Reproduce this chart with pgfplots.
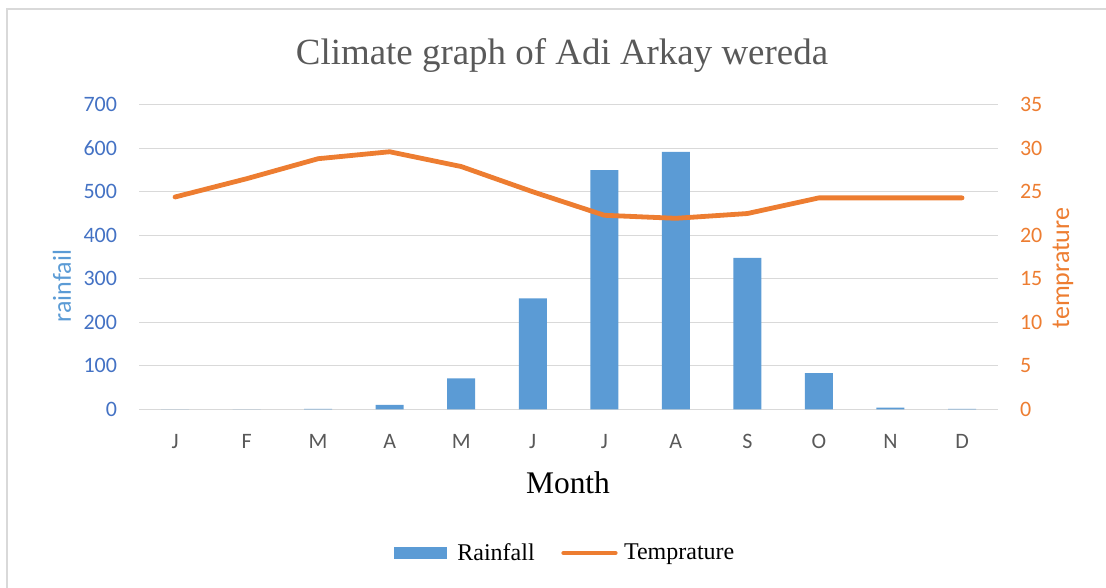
\documentclass[border=0pt]{standalone}
\usepackage{fontspec}
\usepackage{pgfplots}
\pgfplotsset{compat=1.18}
\setmainfont{Liberation Serif}
\newfontfamily\calibri{Carlito}

\definecolor{barblue}{HTML}{5B9BD5}
\definecolor{tickblue}{HTML}{4472C4}
\definecolor{lineorange}{HTML}{ED7D31}
\definecolor{gridgray}{HTML}{D9D9D9}
\definecolor{textgray}{HTML}{595959}

\begin{document}
\begin{tikzpicture}
\useasboundingbox (0,0) rectangle (829.5pt,440.25pt);
% chart frame (left and top edges only visible)
\draw[gridgray, line width=1.5pt] (5.25pt,-5pt) -- (5.25pt,433.5pt) -- (835pt,433.5pt);

% rainfall (left axis)
\begin{axis}[
  scale only axis,
  width=643.9pt, height=228.4pt,
  at={(104.44pt,133.28pt)}, anchor=south west,
  xmin=-0.5, xmax=11.5,
  ymin=0, ymax=700,
  ytick={0,100,...,700},
  xtick={0,...,11},
  xticklabels={J,F,M,A,M,J,J,A,S,O,N,D},
  axis line style={draw=none},
  major tick length=0pt,
  ymajorgrids,
  grid style={draw=gridgray, line width=1pt},
  /pgf/number format/assume math mode=true,
  /pgf/number format/1000 sep={},
  yticklabel style={font=\calibri\fontsize{16.5}{18}\selectfont, text=tickblue,
    anchor=east, inner sep=0pt, xshift=-16.5pt},
  xticklabel style={font=\calibri\fontsize{16.5}{18}\selectfont, text=textgray,
    anchor=center, inner sep=0pt, text height=10.6pt, text depth=0pt, yshift=-24.3pt},
]
\addplot[ybar, bar width=21pt, fill=barblue, draw=none] coordinates {
  (0,0) (1,0) (2,1) (3,10) (4,71) (5,255)
  (6,550) (7,592) (8,348) (9,83) (10,4) (11,1)
};
\end{axis}

% temperature (right axis)
\begin{axis}[
  scale only axis,
  width=643.9pt, height=228.4pt,
  at={(104.44pt,133.28pt)}, anchor=south west,
  xmin=-0.5, xmax=11.5,
  ymin=0, ymax=35,
  ytick={0,5,...,35},
  axis y line*=right,
  hide x axis,
  axis line style={draw=none},
  major tick length=0pt,
  /pgf/number format/assume math mode=true,
  yticklabel style={font=\calibri\fontsize{16.5}{18}\selectfont, text=lineorange,
    anchor=west, inner sep=0pt, xshift=16.5pt},
  legend columns=2,
  legend style={
    at={(0.4948,-0.472)}, anchor=center, draw=none, fill=none,
    font=\fontsize{18}{20}\selectfont,
    nodes={inner sep=0pt},
    /tikz/column 1/.style={column sep=8.25pt},
    /tikz/column 2/.style={column sep=20pt},
    /tikz/column 3/.style={column sep=4.8pt},
  },
]
\addlegendimage{legend image code/.code={
  \fill[barblue] (0pt,-4.1pt) rectangle (39pt,4.1pt);}}
\addlegendentry{Rainfall}
\addplot[lineorange, line width=3.6pt, line join=round, line cap=round,
  legend image code/.code={
    \draw[lineorange, line width=3.6pt, line cap=round] (2.4pt,0pt) -- (41pt,0pt);}]
  coordinates {
  (0,24.4) (1,26.5) (2,28.8) (3,29.6) (4,27.9) (5,25.0)
  (6,22.3) (7,21.95) (8,22.5) (9,24.3) (10,24.3) (11,24.3)
};
\addlegendentry{Temprature}
\end{axis}

% titles and axis names
\node[text=textgray, font=\fontsize{27.7}{30}\selectfont] at (421.5pt,399pt)
  {Climate graph of Adi Arkay wereda};
\node[font=\fontsize{23.6}{26}\selectfont] at (426pt,78pt) {Month};
\node[rotate=90, text=barblue, font=\calibri\fontsize{19.5}{21}\selectfont]
  at (46.5pt,225.75pt) {rainfail};
\node[rotate=90, text=lineorange, font=\calibri\fontsize{19.5}{21}\selectfont]
  at (797.25pt,239.25pt) {temprature};
\end{tikzpicture}
\end{document}
